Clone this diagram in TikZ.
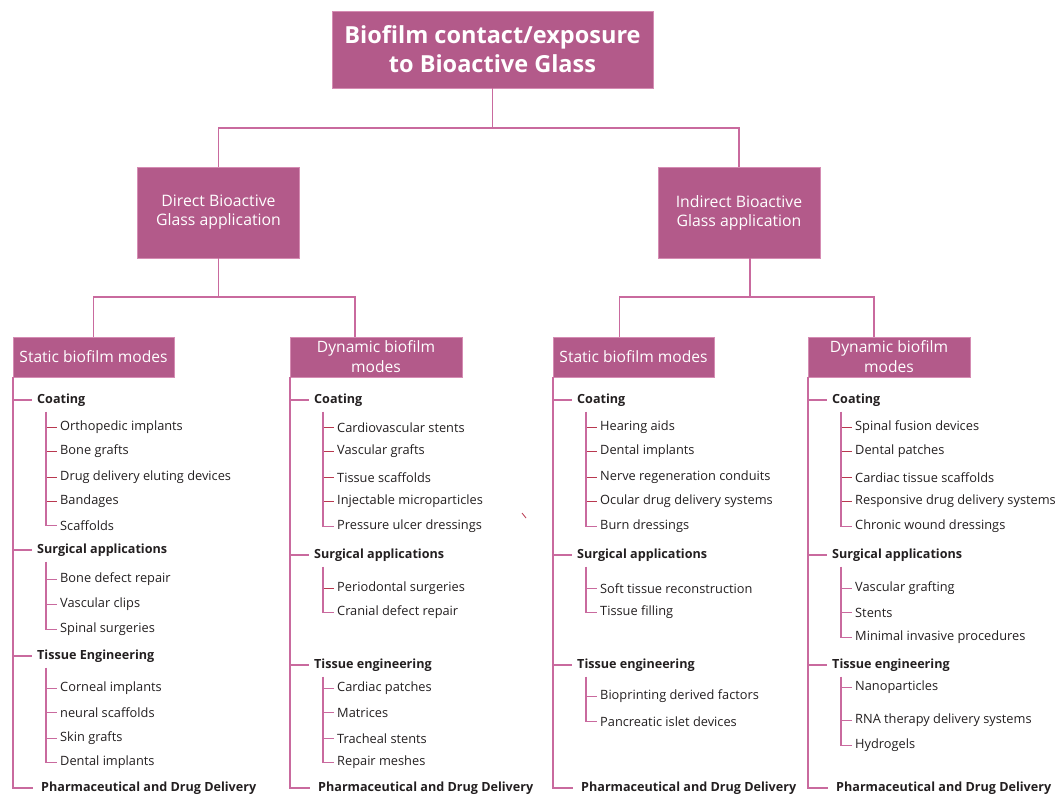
\documentclass[tikz,border=0pt]{standalone}
\usepackage{fontspec}
\setmainfont{Open Sans}
\usetikzlibrary{calc}

\definecolor{boxfill}{HTML}{B35A8A}
\definecolor{boxedge}{HTML}{D58CB3}
\definecolor{linkpink}{HTML}{C96A9E}
\definecolor{tickred}{HTML}{B8384F}
\definecolor{ink}{HTML}{231F20}

\tikzset{
  catbox/.style={fill=boxfill, draw=boxedge, line width=0.8pt, text=white,
    align=center, inner sep=0pt},
  topfont/.style={font=\bfseries\fontsize{23.5}{29}\selectfont},
  midfont/.style={font=\fontsize{15.8}{19}\selectfont},
  modefont/.style={font=\fontsize{15.6}{20}\selectfont},
  link/.style={draw=linkpink, line width=1.9pt},
  grouplabel/.style={anchor=west, inner sep=0pt, text=ink, yshift=-1.2pt,
    font=\bfseries\fontsize{12.6}{14}\selectfont},
  leaf/.style={anchor=west, inner sep=0pt, text=ink, yshift=-1.5pt,
    font=\fontsize{12.8}{14}\selectfont},
}

% #1 group name, #2 column box, #3 trunk x, #4 label y, #5 label,
% #6 leaves (y/text), #7 number of leaves, #8 colour of the inner ticks
\newcommand\leafgroup[8]{%
  \node[grouplabel] (#1) at (#3+24,#4) {#5};
  \draw[link, shorten >=5pt] (#2.south west |- #1.west) -- (#1.west);
  \foreach \yy/\tt [count=\k] in {#6} {
    \node[leaf] (#1-\k) at (#3+47,\yy) {\tt};
    \draw[draw=#8, line width=1.5pt, shorten >=3pt]
      ([xshift=9pt]#1.west |- #1-\k.west) -- (#1-\k.west);
  }
  \draw[link, line width=1.5pt, shorten >=3pt]
    ([xshift=9pt,yshift=-5pt]#1.south west) |- (#1-#7.west);
}

% #1 column box, #2 trunk x, #3 name prefix
\newcommand\pharmleaf[3]{%
  \node[grouplabel] (#3-pharm) at (#2+28,787) {Pharmaceutical and Drug Delivery};
  \draw[link, shorten >=8pt] (#1.south west) |- (#3-pharm.west);
}

\begin{document}
\begin{tikzpicture}[x=1pt, y=-1pt]
\useasboundingbox (0,0) rectangle (1057,795);

% ---- top levels ----
\node[catbox, topfont, minimum width=321pt, minimum height=77pt] (root)
  at (492.5,49.5) {Biofilm contact/exposure\\to Bioactive Glass};

\node[catbox, midfont, minimum width=162pt, minimum height=91pt] (direct)
  at (218.5,212.5) {Direct Bioactive\\Glass application};
\node[catbox, midfont, minimum width=162pt, minimum height=91pt] (indirect)
  at (739,212.5) {Indirect Bioactive\\Glass application};

\node[catbox, modefont, minimum width=161pt, minimum height=40pt] (sL)
  at (93.5,357) {Static biofilm modes};
\node[catbox, modefont, minimum width=172pt, minimum height=40pt] (dL)
  at (376,357) {Dynamic biofilm\\modes};
\node[catbox, modefont, minimum width=161pt, minimum height=40pt] (sR)
  at (633.5,357) {Static biofilm modes};
\node[catbox, modefont, minimum width=162pt, minimum height=40pt] (dR)
  at (889,357) {Dynamic biofilm\\modes};

\draw[link] (root.south) -- ++(0,40) -| (direct.north);
\draw[link] (root.south) -- ++(0,40) -| (indirect.north);
\draw[link] (direct.south) -- ++(0,39) -| (sL.north);
\draw[link] (direct.south) -- ++(0,39) -| ([xshift=-21pt]dL.north);
\draw[link] ([xshift=11pt]indirect.south) -- ++(0,39) -| ([xshift=-14pt]sR.north);
\draw[link] ([xshift=11pt]indirect.south) -- ++(0,39) -| ([xshift=-15pt]dR.north);

% ---- column 1: direct, static ----
\leafgroup{a1}{sL}{13}{399}{Coating}
  {426/Orthopedic implants, 450/Bone grafts, 476/Drug delivery eluting devices,
   500/Bandages, 524/Scaffolds}{5}{tickred}
\leafgroup{a2}{sL}{13}{549}{Surgical applications}
  {578/Bone defect repair, 603/Vascular clips, 628/Spinal surgeries}{3}{linkpink}
\leafgroup{a3}{sL}{13}{655}{Tissue Engineering}
  {687/Corneal implants, 711/neural scaffolds, 737/Skin grafts,
   761/Dental implants}{4}{linkpink}
\pharmleaf{sL}{13}{a}

% ---- column 2: direct, dynamic ----
\leafgroup{b1}{dL}{290}{399}{Coating}
  {426/Cardiovascular stents, 450/Vascular grafts, 476/Tissue scaffolds,
   500/Injectable microparticles, 525/Pressure ulcer dressings}{5}{tickred}
\leafgroup{b2}{dL}{290}{554}{Surgical applications}
  {587/Periodontal surgeries, 611/Cranial defect repair}{2}{tickred}
\leafgroup{b3}{dL}{290}{664}{Tissue engineering}
  {687/Cardiac patches, 711/Matrices, 737/Tracheal stents,
   761/Repair meshes}{4}{linkpink}
\pharmleaf{dL}{290}{b}

% ---- column 3: indirect, static ----
\leafgroup{c1}{sR}{553}{399}{Coating}
  {426/Hearing aids, 450/Dental implants, 476/Nerve regeneration conduits,
   500/Ocular drug delivery systems, 525/Burn dressings}{5}{tickred}
\leafgroup{c2}{sR}{553}{554}{Surgical applications}
  {587/Soft tissue reconstruction, 611/Tissue filling}{2}{linkpink}
\leafgroup{c3}{sR}{553}{664}{Tissue engineering}
  {695/Bioprinting derived factors, 720/Pancreatic islet devices}{2}{linkpink}
\pharmleaf{sR}{553}{c}

% ---- column 4: indirect, dynamic ----
\leafgroup{d1}{dR}{808}{399}{Coating}
  {426/Spinal fusion devices, 450/Dental patches, 476/Cardiac tissue scaffolds,
   500/Responsive drug delivery systems, 525/Chronic wound dressings}{5}{tickred}
\leafgroup{d2}{dR}{808}{554}{Surgical applications}
  {587/Vascular grafting, 611/Stents, 636/Minimal invasive procedures}{3}{linkpink}
\leafgroup{d3}{dR}{808}{664}{Tissue engineering}
  {686/Nanoparticles, 719/RNA therapy delivery systems, 744/Hydrogels}{3}{linkpink}
\pharmleaf{dR}{808}{d}

% small stray stroke between the middle columns
\draw[tickred, line width=0.8pt] (522,513) -- (526,518);
\end{tikzpicture}
\end{document}
